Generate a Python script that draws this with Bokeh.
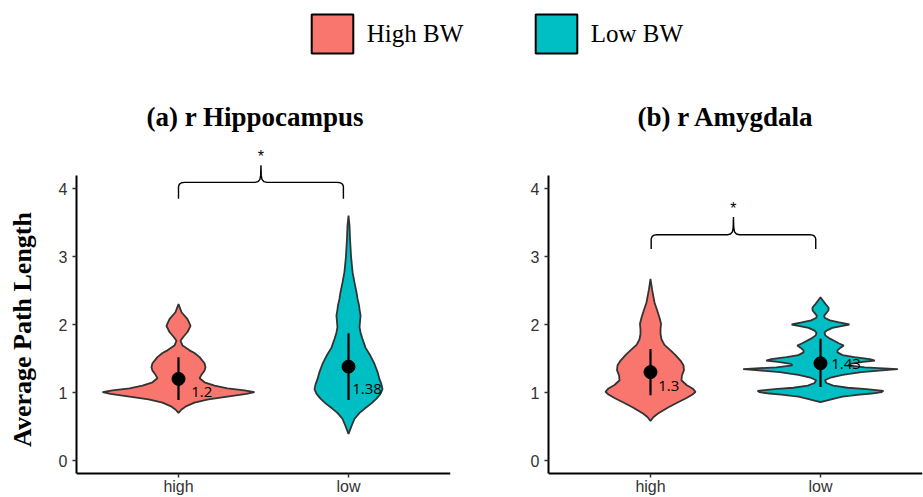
import math
from bokeh.plotting import figure
from bokeh.layouts import column, row
from bokeh.models import (ColumnDataSource, FixedTicker, Legend, LegendItem,
                          LinearAxis, Range1d, Label)
from bokeh.core.properties import value
from bokeh.embed import file_html
from bokeh.resources import INLINE

# ---------------- data ----------------
groups = ["High BW", "Low BW"]
categories = ["high", "low"]
colors = ["#F8766D", "#00BFC4"]
y_ticks = [0, 1, 2, 3, 4]
y_title = "Average Path Length"

# violin outlines: y level and half width (x units)
a_high_y = [0.70, 0.75, 0.80, 0.85, 0.90, 0.94, 0.98, 1.005, 1.03, 1.06, 1.10, 1.15,
            1.21, 1.26, 1.32, 1.37, 1.43, 1.52, 1.58, 1.62, 1.69, 1.76, 1.82, 1.89,
            1.98, 2.08, 2.18, 2.30]
a_high_w = [0.0, 0.018, 0.047, 0.094, 0.176, 0.288, 0.400, 0.447, 0.388, 0.288, 0.212,
            0.153, 0.124, 0.135, 0.153, 0.159, 0.153, 0.124, 0.094, 0.065, 0.024, 0.012,
            0.029, 0.053, 0.071, 0.053, 0.018, 0.0]

a_low_y = [0.39, 0.45, 0.51, 0.61, 0.70, 0.76, 0.84, 0.91, 0.98, 1.05, 1.12, 1.20, 1.30,
           1.42, 1.54, 1.66, 1.79, 1.88, 1.96, 2.05, 2.13, 2.22, 2.28, 2.38, 2.475, 2.62,
           2.77, 3.00, 3.26, 3.45, 3.60]
a_low_w = [0.0, 0.009, 0.018, 0.035, 0.065, 0.094, 0.135, 0.165, 0.188, 0.200, 0.194,
           0.182, 0.171, 0.153, 0.129, 0.100, 0.082, 0.071, 0.065, 0.068, 0.071, 0.065,
           0.062, 0.053, 0.047, 0.035, 0.024, 0.015, 0.009, 0.006, 0.0]

b_high_y = [0.58, 0.64, 0.69, 0.78, 0.86, 0.92, 0.97, 1.01, 1.06, 1.11, 1.18, 1.25, 1.33,
            1.40, 1.47, 1.55, 1.62, 1.70, 1.78, 1.86, 1.93, 2.01, 2.10, 2.21, 2.32, 2.40,
            2.52, 2.67]
b_high_w = [0.0, 0.018, 0.044, 0.103, 0.165, 0.212, 0.247, 0.265, 0.247, 0.212, 0.182,
            0.185, 0.197, 0.194, 0.176, 0.147, 0.118, 0.082, 0.065, 0.059, 0.059, 0.062,
            0.053, 0.039, 0.024, 0.018, 0.009, 0.0]

b_low_y = [0.858, 0.88, 0.907, 0.94, 0.97, 0.985, 1.005, 1.025, 1.05, 1.07, 1.10, 1.14,
           1.18, 1.22, 1.26, 1.30, 1.33, 1.345, 1.37, 1.40, 1.42, 1.45, 1.47, 1.49, 1.52,
           1.55, 1.59, 1.62, 1.66, 1.69, 1.72, 1.76, 1.80, 1.84, 1.88, 1.91, 1.95, 1.98,
           2.00, 2.03, 2.06, 2.10, 2.13, 2.17, 2.21, 2.25, 2.30, 2.35, 2.40]
b_low_w = [0.0, 0.035, 0.075, 0.130, 0.230, 0.300, 0.360, 0.370, 0.270, 0.160, 0.075,
           0.035, 0.026, 0.060, 0.130, 0.240, 0.380, 0.455, 0.260, 0.165, 0.175, 0.250,
           0.320, 0.290, 0.200, 0.130, 0.100, 0.100, 0.118, 0.137, 0.110, 0.080, 0.050,
           0.028, 0.024, 0.035, 0.070, 0.130, 0.170, 0.110, 0.055, 0.024, 0.022, 0.035,
           0.047, 0.047, 0.030, 0.015, 0.0]

# means with error bars
a_means = [1.2, 1.38]
a_lo = [0.89, 0.89]
a_hi = [1.52, 1.87]
a_labels = ["1.2", "1.38"]
a_label_x = [1.075, 2.022]
a_label_y = [1.01, 1.05]

b_means = [1.3, 1.43]
b_lo = [0.96, 1.08]
b_hi = [1.64, 1.79]
b_labels = ["1.3", "1.43"]
b_label_x = [1.045, 2.063]
b_label_y = [1.10, 1.42]

# significance brackets: x from, x to, leg bottom, horizontal level, tip
a_bracket = [1.0, 1.97, 3.85, 4.09, 4.34]
b_bracket = [1.004, 1.972, 3.11, 3.32, 3.58]
sig_text = "*"

PX_X = 1 / 170.0
PX_Y = 1 / 68.0
PANEL_H = 419


def brace(x1, x2, yb, yh, yt):
    xc = (x1 + x2) / 2
    left_x = [x1, x1, x1 + 1 * PX_X, x1 + 3 * PX_X, x1 + 6 * PX_X,
              xc - 6 * PX_X, xc - 3 * PX_X, xc - 1 * PX_X, xc - 0.3 * PX_X, xc]
    left_y = [yb, yh - 4 * PX_Y, yh - 1.7 * PX_Y, yh - 0.4 * PX_Y, yh,
              yh, yh + 0.7 * PX_Y, yh + 3 * PX_Y, yh + 7 * PX_Y, yt]
    right_x = [2 * xc - v for v in reversed(left_x)]
    right_y = list(reversed(left_y))
    return left_x + right_x[1:], left_y + right_y[1:]


def panel(title, title_offset, width, border_left, border_right,
          violins, means, lo, hi, labels, lab_x, lab_y, bracket):
    p = figure(width=width, height=PANEL_H, x_range=Range1d(0.4, 2.6),
               y_range=Range1d(-0.5441, 4.7059), output_backend="svg",
               toolbar_location=None, x_axis_location=None, y_axis_location=None,
               min_border_left=border_left, min_border_right=border_right,
               min_border_top=62, min_border_bottom=0, title=title)
    p.outline_line_color = None
    p.xgrid.visible = False
    p.ygrid.visible = False
    p.background_fill_color = "white"
    p.title.align = "left"
    p.title.offset = title_offset
    p.title.standoff = 17
    p.title.text_font = "Liberation Serif"
    p.title.text_font_style = "bold"
    p.title.text_font_size = "27px"
    p.title.text_color = "black"

    yax = LinearAxis(ticker=FixedTicker(ticks=y_ticks), bounds=(-0.19, 4.19))
    xax = LinearAxis(ticker=FixedTicker(ticks=[1, 2]), fixed_location=-0.19,
                     major_label_overrides={1: categories[0], 2: categories[1]})
    for ax in (yax, xax):
        ax.axis_line_color = "black"
        ax.axis_line_width = 2
        ax.major_tick_line_color = "#333333"
        ax.major_tick_line_width = 1.5
        ax.major_tick_in = 0
        ax.major_tick_out = 4
        ax.minor_tick_line_color = None
        ax.major_label_text_font = "Liberation Sans"
        ax.major_label_text_font_size = "16px"
        ax.major_label_text_color = "#333333"
    yax.major_label_standoff = 5
    xax.major_label_standoff = 1
    p.add_layout(yax, "left")
    p.add_layout(xax, "below")

    for i, (vy, vw) in enumerate(violins):
        c = i + 1
        xs = [c + w for w in vw] + [c - w for w in reversed(vw)]
        ys = list(vy) + list(reversed(vy))
        p.patch(xs, ys, fill_color=colors[i], line_color="#333333", line_width=1.8)

    pos = [1, 2]
    p.segment(x0=pos, y0=lo, x1=pos, y1=hi, line_color="black", line_width=2.2)
    p.scatter(x=pos, y=means, size=13, fill_color="black", line_color="black")
    p.text(x=lab_x, y=lab_y, text=labels, text_font=value("Open Sans"),
           text_font_size=value("15px"), text_baseline="middle", text_align="left",
           text_color="black")

    bx, by = brace(*bracket)
    p.line(bx, by, line_color="black", line_width=1.4)
    xc = (bracket[0] + bracket[1]) / 2
    p.text(x=[xc], y=[bracket[3] + 0.52 - 9 * PX_Y], text=[sig_text],
           text_font=value("Liberation Sans"), text_font_size=value("16px"),
           text_align="center", text_baseline="alphabetic", text_color="black")
    return p


# strip holding the shared y-axis title
yl = figure(width=40, height=PANEL_H, x_range=Range1d(0, 1), y_range=Range1d(0, 1),
            output_backend="svg", toolbar_location=None, x_axis_location=None,
            y_axis_location=None, min_border=0)
yl.outline_line_color = None
yl.xgrid.visible = False
yl.ygrid.visible = False
yl.add_layout(Label(x=21.5, y=168, x_units="screen", y_units="screen", text=y_title,
                    angle=math.pi / 2, text_align="center", text_baseline="middle",
                    text_font="Liberation Serif", text_font_style="bold",
                    text_font_size="26px", text_color="black"))

p1 = panel("(a) r Hippocampus", 70, 420, 36, 10,
           [(a_high_y, a_high_w), (a_low_y, a_low_w)],
           a_means, a_lo, a_hi, a_labels, a_label_x, a_label_y, a_bracket)
p2 = panel("(b) r Amygdala", 89, 463, 88, 1,
           [(b_high_y, b_high_w), (b_low_y, b_low_w)],
           b_means, b_lo, b_hi, b_labels, b_label_x, b_label_y, b_bracket)

# legend strip
lf = figure(width=923, height=78, x_range=Range1d(0, 1), y_range=Range1d(0, 1),
            output_backend="svg", toolbar_location=None, x_axis_location=None,
            y_axis_location=None, min_border=0)
lf.outline_line_color = None
lf.xgrid.visible = False
lf.ygrid.visible = False
for g, c, lx in zip(groups, colors, [305.8, 529.8]):
    # legend proxy placed outside the visible range
    src = ColumnDataSource(dict(left=[-3], right=[-2], top=[-2], bottom=[-3]))
    r = lf.quad(left="left", right="right", top="top", bottom="bottom", source=src,
                fill_color=c, line_color="black", line_width=2)
    lg = Legend(items=[LegendItem(label=g, renderers=[r])], location=(lx, 19.9),
                orientation="horizontal", glyph_width=52, glyph_height=49,
                label_standoff=9, padding=0, margin=0, border_line_color=None,
                background_fill_alpha=0, label_text_font="Liberation Serif",
                label_text_font_size="25px", label_text_color="black")
    lf.add_layout(lg, "center")

layout = column(lf, row(yl, p1, p2, spacing=0), spacing=0)
open("out.html", "w").write(file_html(layout, INLINE))
